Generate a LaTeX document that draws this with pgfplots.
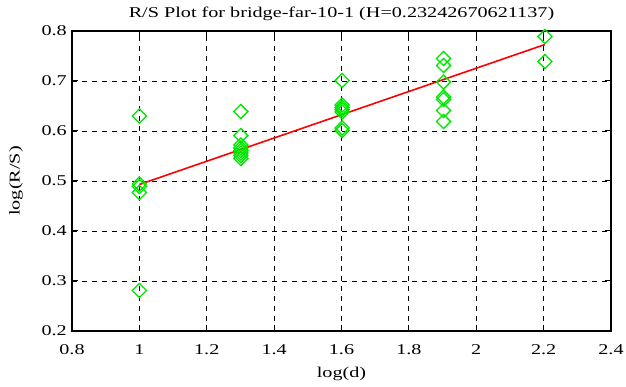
\documentclass[border=0pt]{standalone}
\usepackage{fontspec}
\setmainfont{Liberation Serif}[FakeStretch=1.35]
\usepackage{pgfplots}
\pgfplotsset{compat=1.18}
\definecolor{gpgreen}{RGB}{0,230,0}
\definecolor{gpred}{RGB}{255,0,0}
\begin{document}
\fontsize{15}{17}\selectfont
\begin{tikzpicture}
\begin{axis}[
  name=ax,
  scale only axis,
  width=539bp, height=300bp,
  xmin=0.8, xmax=2.4, ymin=0.2, ymax=0.8,
  xtick={0.8,1,...,2.41}, ytick={0.2,0.3,...,0.81},
  xticklabels={0.8,1,1.2,1.4,1.6,1.8,2,2.2,2.4},
  yticklabels={0.2,0.3,0.4,0.5,0.6,0.7,0.8},
  tick align=inside,
  major tick length=6bp,
  tick style={black, line width=1bp},
  axis line style={line width=1.2bp},
  grid=major,
  grid style={black, line width=0.8bp, dash pattern=on 5bp off 5bp},
  title={R/S Plot for bridge-far-10-1 (H=0.23242670621137)},
  title style={at={(axis description cs:0.5,1)}, anchor=base, yshift=8bp},
  xlabel={log(d)}, ylabel={log(R/S)},
  xlabel style={at={(axis description cs:0.5,0)}, anchor=base, yshift=-47bp},
  ylabel style={at={(axis description cs:0,0.5)}, anchor=center, rotate=0, yshift=56bp},
  xticklabel style={anchor=base, yshift=-24bp},
  yticklabel style={anchor=east, xshift=-5bp, inner sep=0pt},
  /pgf/number format/assume math mode=true,
]
\addplot[only marks, mark=square, mark size=5bp, mark options={rotate=45, draw=gpgreen, line width=1.3bp}] coordinates {
(1.0,0.630) (1.0,0.494) (1.0,0.489) (1.0,0.477) (1.0,0.281)
(1.301,0.639) (1.301,0.591) (1.301,0.572) (1.301,0.566) (1.301,0.561) (1.301,0.556) (1.301,0.551) (1.301,0.545)
(1.602,0.701) (1.602,0.652) (1.602,0.647) (1.602,0.643) (1.602,0.638) (1.602,0.606) (1.602,0.601)
(1.903,0.745) (1.903,0.731) (1.903,0.698) (1.903,0.668) (1.903,0.663) (1.903,0.641) (1.903,0.619)
(2.204,0.789) (2.204,0.739)
};
\addplot[gpred, line width=1.6bp] coordinates {(1.0,0.493) (2.204,0.773)};
\end{axis}
\pgfresetboundingbox
\useasboundingbox ([xshift=-72bp,yshift=-56bp]ax.south west) rectangle ([xshift=15bp,yshift=31bp]ax.north east);
\end{tikzpicture}
\end{document}
